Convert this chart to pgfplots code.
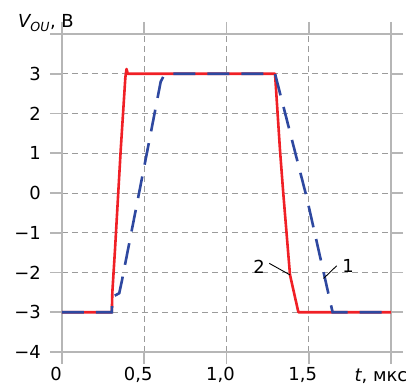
\documentclass[border=0pt]{standalone}
\usepackage{pgfplots}
\pgfplotsset{compat=1.18}
\usepackage{fontspec}
\setmainfont{DejaVu Sans}
\definecolor{cred}{RGB}{240,32,38}
\definecolor{cblue}{RGB}{46,72,160}
\definecolor{axgray}{RGB}{182,182,182}
\definecolor{gridgray}{RGB}{155,155,155}
\begin{document}
\fontsize{18}{21}\selectfont
\begin{tikzpicture}
\begin{axis}[
  scale only axis, width=329bp, height=318bp,
  xmin=0, xmax=2, ymin=-4, ymax=4,
  axis line style={axgray, line width=1.8bp},
  every tick/.style={axgray, line width=1.8bp},
  tick align=outside, major tick length=12bp,
  xtick={0,0.5,1,1.5,2}, xticklabels={0,{0,5},{1,0},{1,5},{}},
  ytick={-4,-3,-2,-1,0,1,2,3,4}, yticklabels={−4,−3,−2,−1,0,1,2,3,{}},
  grid=major,
  major grid style={gridgray, line width=0.8bp, dash pattern=on 6bp off 4bp},
  ticklabel style={font=\fontsize{18}{21}\selectfont, text=black},
  xticklabel style={xshift=-6bp, yshift=3bp},
  yticklabel style={xshift=-3bp},
  clip=false,
]
\addplot[cred, line width=2.6bp, line join=round] coordinates {
 (0,-3) (0.303,-3) (0.306,-2.5) (0.322,-1.44) (0.357,1.09) (0.385,2.9) (0.392,3.12) (0.40,3.0)
 (1.295,3.0) (1.325,1.09) (1.345,0) (1.386,-2.06) (1.437,-3) (2,-3)};
\addplot[cblue, line width=2.6bp, dash pattern=on 22bp off 12bp] coordinates {
 (0,-3) (0.303,-3) (0.305,-2.62) (0.348,-2.52) (0.363,-2.23) (0.52,1.09) (0.60,2.8) (0.625,3.0)
 (1.295,3.0) (1.488,-0.12) (1.645,-3) (2,-3)};
\draw[black, line width=0.9bp] (axis cs:1.26,-1.77) -- (axis cs:1.386,-2.06);
\draw[black, line width=0.9bp] (axis cs:1.67,-1.83) -- (axis cs:1.59,-2.15);
\node at (axis cs:1.198,-1.86) {2};
\node at (axis cs:1.739,-1.84) {1};
\node[anchor=base west, inner sep=0pt] at ([shift={(-44bp,6bp)}]rel axis cs:0,1) {\itshape V\textsubscript{OU}\upshape, В};
\node[anchor=base, inner sep=0pt] at ([shift={(-10bp,-29bp)}]rel axis cs:1,0) {\itshape t\upshape, мкс};
\coordinate (ll) at (rel axis cs:0,0);
\coordinate (ur) at (rel axis cs:1,1);
\end{axis}
\pgfresetboundingbox
\path[use as bounding box] ([shift={(-62bp,-34bp)}]ll) rectangle ([shift={(22bp,34bp)}]ur);
\end{tikzpicture}
\end{document}
